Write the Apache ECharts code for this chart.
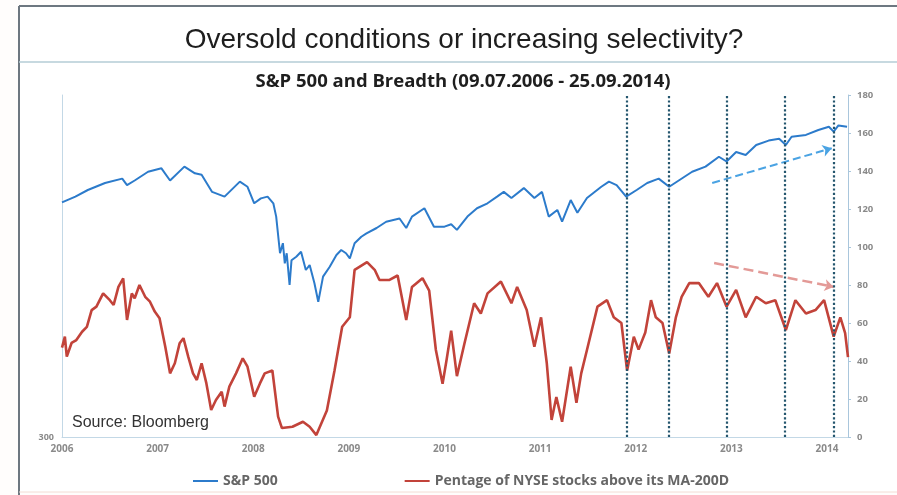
<!DOCTYPE html>
<html>
<head>
<meta charset="utf-8">
<script src="https://cdn.jsdelivr.net/npm/echarts@6/dist/echarts.min.js"></script>
<style>
html,body{margin:0;padding:0;background:#fffdfc;}
#c{width:897px;height:495px;}
</style>
</head>
<body>
<div id="c"></div>
<script>
// x = years since 09.07.2006
const startYear = 2006;
const xMax = 8.22;
const spxPoints = [[0,123.5],[0.14,126.5],[0.27,130],[0.45,133.7],[0.63,136],[0.68,132.6],[0.76,135],[0.90,139.6],[1.04,141.4],[1.13,135],[1.28,142.3],[1.39,138.8],[1.46,138],[1.57,129],[1.70,126.5],[1.86,134.4],[1.94,131.7],[2.01,123],[2.08,125.6],[2.15,126.5],[2.21,123],[2.24,116],[2.28,96.7],[2.31,102],[2.33,91.4],[2.35,96.7],[2.38,80],[2.40,93],[2.45,94.9],[2.50,97.5],[2.55,87.9],[2.59,90.5],[2.64,80.9],[2.68,71.2],[2.73,84.4],[2.80,89.6],[2.87,95.8],[2.92,98.4],[2.97,96.7],[3.01,94],[3.06,102],[3.13,105.4],[3.18,107],[3.29,110],[3.39,113.3],[3.53,115],[3.60,110],[3.66,116],[3.79,120.4],[3.89,110.7],[4.00,110.7],[4.07,112],[4.13,109],[4.24,116],[4.34,120.4],[4.45,123],[4.55,126.5],[4.62,129],[4.70,125.8],[4.83,131],[4.94,125.8],[5.02,129],[5.09,116],[5.18,119.5],[5.23,113.3],[5.32,124.7],[5.39,118],[5.49,125.8],[5.64,131.7],[5.72,134.4],[5.80,132.6],[5.90,126.5],[6.01,130],[6.12,133.7],[6.24,136],[6.35,131.7],[6.45,135],[6.59,139.6],[6.73,142.3],[6.87,147.5],[6.95,145],[7.05,150],[7.15,148.4],[7.26,153.7],[7.39,156],[7.50,157],[7.57,153.7],[7.63,158],[7.78,159],[7.91,161.6],[8.02,163.3],[8.07,160.7],[8.12,164],[8.21,163.3]];
const breadthPoints = [[0,47],[0.03,52.8],[0.05,42.3],[0.10,49.5],[0.15,51],[0.21,55.4],[0.26,58],[0.31,66.8],[0.36,68.6],[0.43,75.6],[0.50,72],[0.54,69.5],[0.59,79],[0.64,83.5],[0.68,61.6],[0.73,75.6],[0.76,73],[0.81,80],[0.87,73.8],[0.92,71.2],[0.97,66],[1.02,62.5],[1.08,47.5],[1.13,33.5],[1.18,38.8],[1.23,49.3],[1.27,52],[1.32,42.3],[1.37,33.5],[1.41,30],[1.46,38.8],[1.51,28.2],[1.56,14.2],[1.61,19.5],[1.67,23.8],[1.70,16],[1.75,26.5],[1.82,33.5],[1.89,41.4],[1.94,37],[2.01,21.2],[2.07,28.2],[2.12,33.5],[2.20,35],[2.26,10.7],[2.30,4.7],[2.41,5.4],[2.52,8],[2.59,5.4],[2.66,1],[2.77,14],[2.85,35],[2.93,58],[3.01,63],[3.06,88],[3.19,92],[3.27,88],[3.32,82.6],[3.42,82.6],[3.51,85],[3.60,61.6],[3.66,79],[3.77,83.6],[3.84,77],[3.91,45.8],[3.98,28],[4.02,40],[4.07,56],[4.13,32],[4.21,49.5],[4.31,70.4],[4.38,65],[4.45,75.6],[4.59,81.8],[4.70,70.4],[4.76,79],[4.86,66.8],[4.94,47.5],[5.01,63],[5.07,38.8],[5.12,9],[5.17,21],[5.23,8],[5.32,37],[5.38,18],[5.43,33.5],[5.49,45.8],[5.60,68.6],[5.70,72],[5.77,63],[5.85,60],[5.91,35],[5.98,52.8],[6.03,46],[6.10,55],[6.16,72],[6.21,63],[6.28,60],[6.35,44],[6.42,63],[6.48,73.8],[6.56,81],[6.66,81],[6.76,73.8],[6.85,81],[6.95,68.6],[7.05,77.4],[7.15,63],[7.26,73.8],[7.36,70.4],[7.46,72],[7.57,56.3],[7.67,72],[7.78,65],[7.88,66.8],[7.97,72],[8.07,52.8],[8.14,63],[8.19,54.7],[8.22,42]];
const eventT = [5.91,6.35,6.95,7.56,8.07];
const spxArrow = [[6.80,133.7],[8.05,152]];
const brArrow = [[6.82,91.6],[8.07,79]];
const rightTicks = {min:0,max:180,interval:20};
const seriesNames = ['S&P 500','Pentage of NYSE stocks above its MA-200D'];

const chart = echarts.init(document.getElementById('c'));
chart.setOption({
  backgroundColor:'#fffdfc',
  animation:false,
  title:[
    {text:'Oversold conditions or increasing selectivity?',left:459,top:21,textAlign:'center',
     textStyle:{fontFamily:'Liberation Sans',fontSize:28,fontWeight:'normal',color:'#1e1e1e'}},
    {text:'S&P 500 and Breadth (09.07.2006 - 25.09.2014)',left:458,top:67,textAlign:'center',
     textStyle:{fontFamily:'Open Sans',fontSize:18.5,fontWeight:'bold',color:'#1e1e1e'}}
  ],
  graphic:[
    {type:'rect',shape:{x:19,y:6,width:900,height:486},style:{fill:'#ffffff',stroke:null},z:-10},
    {type:'line',shape:{x1:19,y1:6,x2:19,y2:495},style:{stroke:'#6d7780',lineWidth:2},z:-5},
    {type:'line',shape:{x1:19,y1:6,x2:897,y2:6},style:{stroke:'#6d7780',lineWidth:2},z:-5},
    {type:'line',shape:{x1:19,y1:492,x2:897,y2:492},style:{stroke:'#f3dcd4',lineWidth:1},z:-5},
    {type:'line',shape:{x1:19,y1:62,x2:897,y2:62},style:{stroke:'#b4ccd6',lineWidth:1.5},z:-5},
    {type:'text',left:72,top:415,style:{text:'Source: Bloomberg',fontFamily:'Liberation Sans',fontSize:16,fill:'#333'},z:10}
  ],
  legend:{data:seriesNames,left:188,top:469,icon:'rect',itemWidth:25,itemHeight:2,itemGap:127,
    textStyle:{fontFamily:'Open Sans',fontWeight:'bold',fontSize:14,color:'#666'}},
  grid:{left:62,right:49,top:95,bottom:58},
  xAxis:{type:'value',min:0,max:xMax,interval:1,
    axisLine:{lineStyle:{color:'#c3d8e6'}},axisTick:{show:false},splitLine:{show:false},
    axisLabel:{showMaxLabel:false,margin:7,formatter:v=>String(startYear+Math.round(v)),
      fontFamily:'Open Sans',fontSize:10,fontWeight:'bold',color:'#8a8a8a'}},
  yAxis:[
    {type:'value',position:'left',min:300,max:2100,interval:300,
     axisLine:{show:true,lineStyle:{color:'#c3d8e6'}},axisTick:{show:false},splitLine:{show:false},
     axisLabel:{formatter:v=>v===300?'300':'',margin:8,fontFamily:'Open Sans',fontSize:9,fontWeight:'bold',color:'#8a8a8a'}},
    {type:'value',position:'right',min:rightTicks.min,max:rightTicks.max,interval:rightTicks.interval,
     axisLine:{show:true,lineStyle:{color:'#a9c6dc'}},axisTick:{show:true,length:3,lineStyle:{color:'#a9c6dc'}},splitLine:{show:false},
     axisLabel:{margin:9,fontFamily:'Open Sans',fontSize:9.5,fontWeight:'bold',color:'#8a8a8a'}}
  ],
  series:[
    {name:seriesNames[0],type:'line',yAxisIndex:1,data:spxPoints,showSymbol:false,
     lineStyle:{color:'#2c7bcb',width:2},itemStyle:{color:'#2c7bcb'},z:3,
     markLine:{silent:true,symbol:['none','arrow'],symbolSize:9,label:{show:false},
       lineStyle:{type:'dashed',color:'#4aa3e3',width:2},
       data:[[{coord:spxArrow[0]},{coord:spxArrow[1]}]]}},
    {name:seriesNames[1],type:'line',yAxisIndex:1,data:breadthPoints,showSymbol:false,
     lineStyle:{color:'#c2433a',width:2.6},itemStyle:{color:'#c2433a'},z:2,
     markLine:{silent:true,symbol:['none','arrow'],symbolSize:9,label:{show:false},
       lineStyle:{type:'dashed',color:'#e39a97',width:2.5},
       data:[[{coord:brArrow[0]},{coord:brArrow[1]}]]}},
    {name:'events',type:'line',yAxisIndex:1,data:[],z:4,
     markLine:{silent:true,symbol:['none','none'],label:{show:false},
       lineStyle:{type:'dotted',color:'#24566e',width:2.2},
       data:eventT.map(t=>({xAxis:t}))}}
  ]
});
</script>
</body>
</html>
